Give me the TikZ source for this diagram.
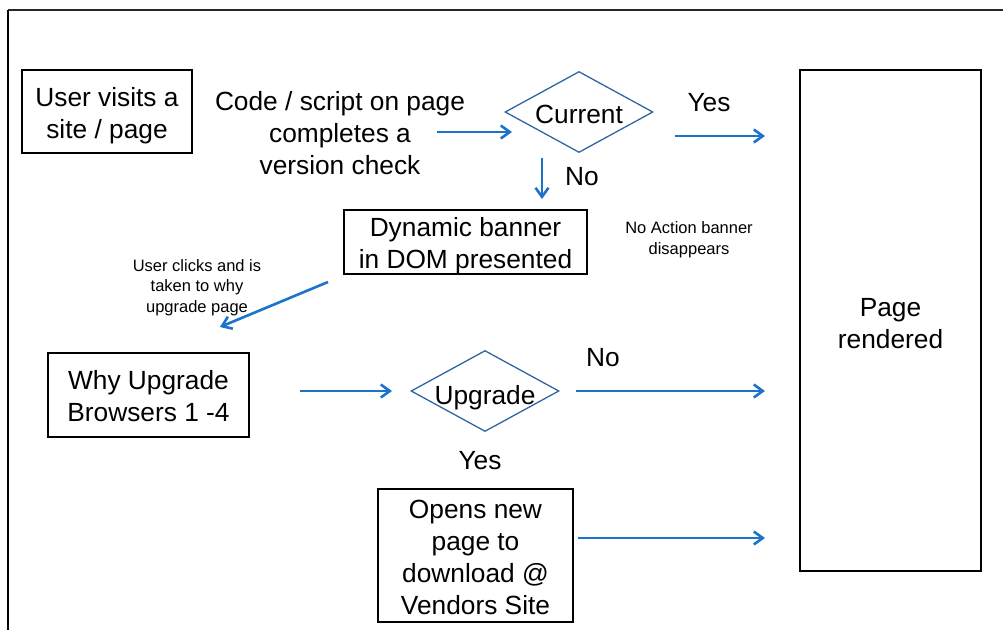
\documentclass[tikz,border=0pt]{standalone}
\usepackage{fontspec}
\setmainfont{Liberation Sans}
\usetikzlibrary{arrows.meta,shapes.geometric}

\definecolor{flowblue}{HTML}{1C73CC}
\definecolor{diablue}{HTML}{2E66A4}

% centred multi-line text, moved down by #1 without changing its box
\newcommand{\droptext}[2]{\raisebox{-#1}[\height][\depth]{\begin{tabular}{@{}c@{}}#2\end{tabular}}}
% one line of text, moved down by #1 without changing its box
\newcommand{\dropline}[2]{\raisebox{-#1}[\height][\depth]{#2}}

\begin{document}
\begin{tikzpicture}[x=1pt,y=-1pt,
  big/.style={font=\fontsize{26.3}{31.8}\selectfont,align=center,inner sep=0pt},
  small/.style={font=\fontsize{16.5}{20.7}\selectfont,align=center,inner sep=0pt},
  box/.style={big,draw=black,line width=1.6pt},
  decision/.style={big,diamond,draw=diablue,line width=1.3pt,aspect=1.83,
    minimum width=148pt,minimum height=81pt},
  flow/.style={draw=flowblue,line width=2.6pt,
    -{Straight Barb[length=9pt,width=13pt,line width=2.6pt]}}]

\useasboundingbox (0,0) rectangle (1003,630);

% outer frame (top and left edges)
\draw[line width=2.4pt,black!85] (8,10) -- (1003,10);
\draw[line width=2.8pt,black] (8,10) -- (8,630);

% boxes
\node[box,minimum width=170pt,minimum height=83pt] (visit) at (107,111.5) {\droptext{4.5pt}{User visits a\\site / page}};
\node[big] (check) at (340,133) {Code / script on page\\completes a\\version check};
\node[decision] (current) at (579,112) {\dropline{2pt}{Current}};
\node[box,minimum width=243pt,minimum height=62pt] (banner) at (465.5,242) {\droptext{4pt}{Dynamic banner\\in DOM presented}};
\node[box,minimum width=201pt,minimum height=84pt] (why) at (148.5,395) {\droptext{4.5pt}{Why Upgrade\\Browsers 1 -4}};
\node[decision] (upgrade) at (485,391) {\dropline{7pt}{Upgrade}};
\node[box,minimum width=195pt,minimum height=133pt] (opens) at (475.5,555.5) {\droptext{4.5pt}{Opens new\\page to\\download @\\Vendors Site}};
\node[box,minimum width=181pt,minimum height=501pt] (page) at (890.5,320.5) {\droptext{5.5pt}{Page\\rendered}};

% labels
\node[big] (yes1) at (709,103) {Yes};
\node[big] (no1) at (582,177) {No};
\node[big] (no2) at (603,358) {No};
\node[big] (yes2) at (480,460.5) {Yes};
\node[small] (clicks) at (197,287.5) {User clicks and is\\taken to why\\upgrade page};
\node[small] (noaction) at (689,240) {No Action banner\\disappears};

% connector ends
\coordinate (c1s) at (437,132);  \coordinate (c1e) at (512,132);
\coordinate (c2s) at (542,158);  \coordinate (c2e) at (542,199);
\coordinate (c3s) at (675,136);  \coordinate (c3e) at (765,136);
\coordinate (c4s) at (328,282);  \coordinate (c4e) at (220,327);
\coordinate (c5s) at (300,391);  \coordinate (c5e) at (392,391);
\coordinate (c6s) at (576,391);  \coordinate (c6e) at (765,391);
\coordinate (c7s) at (578,538);  \coordinate (c7e) at (765,538);

% connectors
\draw[flow] (c1s) -- (c1e);
\draw[flow] (c2s) -- (c2e);
\draw[flow] (c3s) -- (c3e);
\draw[flow] (c4s) -- (c4e);
\draw[flow] (c5s) -- (c5e);
\draw[flow] (c6s) -- (c6e);
\draw[flow] (c7s) -- (c7e);

\end{tikzpicture}
\end{document}
